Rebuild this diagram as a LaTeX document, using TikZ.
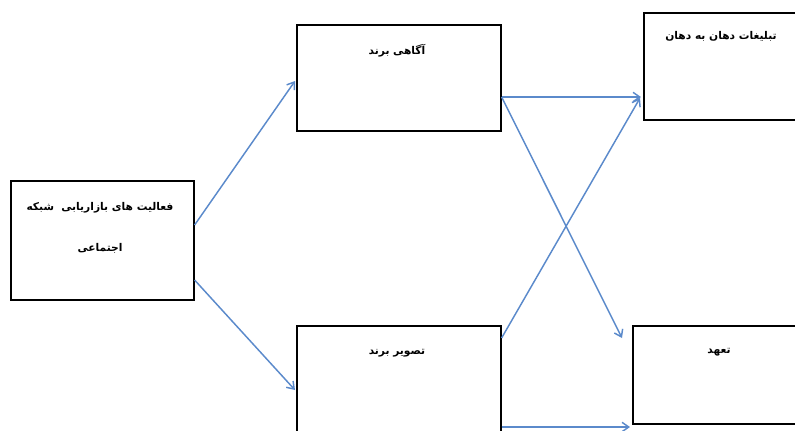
\documentclass[tikz,border=0pt]{standalone}
\usepackage{fontspec}
\usetikzlibrary{arrows.meta}
\newfontfamily\arabicfont[Script=Arabic]{DejaVu Sans}
\TeXXeTstate=1
\definecolor{arrowblue}{HTML}{5B8ACB}
\begin{document}
\begin{tikzpicture}[x=0.75pt,y=-0.75pt,
  box/.style={draw=black,line width=1.2pt,inner sep=0pt,anchor=north west},
  conn/.style={draw=arrowblue,line width=1.1pt,-{Straight Barb[length=5pt,width=7pt]}},
  lbl/.style={font=\arabicfont\bfseries\fontsize{8}{10}\selectfont,inner sep=0pt}]
\useasboundingbox (0,0) rectangle (795,430);
\clip (0,0) rectangle (795,430);
% boxes
\node[box,minimum width=137.25pt,minimum height=89.25pt] (b1) at (10,180) {};
\node[box,minimum width=153pt,minimum height=79.5pt] (b2) at (296,24) {};
\node[box,minimum width=125.25pt,minimum height=80.25pt] (b3) at (643,12) {};
\node[box,minimum width=153pt,minimum height=90pt] (b4) at (296,325) {};
\node[box,minimum width=133.5pt,minimum height=73.5pt] (b5) at (632,325) {};
% labels
\node[lbl] (t1a) at (100,208) {\beginR فعالیت های بازاریابی\ \ شبکه\endR};
\node[lbl] (t1b) at (100,248) {\beginR اجتماعی\endR};
\node[lbl] (t2) at (397,51) {\beginR آگاهی برند\endR};
\node[lbl] (t3) at (721,36) {\beginR تبلیغات دهان به دهان\endR};
\node[lbl] (t4) at (397,353) {\beginR تصویر برند\endR};
\node[lbl] (t5) at (719,352) {\beginR تعهد\endR};
% connector end points on the boxes
\coordinate (b1up) at (b1.east |- 0,225);
\coordinate (b1dn) at (b1.east |- 0,280);
\coordinate (b2in) at (295,81);
\coordinate (b4in) at (295,390);
\coordinate (b2out) at (b2.east |- 0,97);
\coordinate (b3in) at (641,97);
\coordinate (b3in2) at (640,98);
\coordinate (b5in) at (622,338);
\coordinate (b4out) at (b4.east |- 0,338);
\coordinate (b4out2) at (b4.east |- 0,427);
\coordinate (b5in2) at (630,427);
% connectors
\draw[conn] (b1up) -- (b2in);
\draw[conn] (b1dn) -- (b4in);
\draw[conn] (b2out) -- (b3in);
\draw[conn] (b2out) -- (b5in);
\draw[conn] (b4out) -- (b3in2);
\draw[conn] (b4out2) -- (b5in2);
\end{tikzpicture}
\end{document}
